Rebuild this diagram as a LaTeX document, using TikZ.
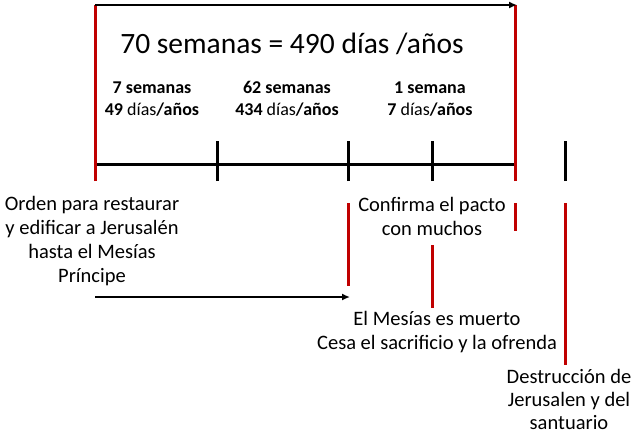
\documentclass[tikz,border=0pt]{standalone}
\usepackage{fontspec}
\setmainfont{Carlito}
\usetikzlibrary{positioning,arrows.meta}
\definecolor{rojo}{RGB}{192,0,0}
\begin{document}
\begin{tikzpicture}[x=1pt,y=-1pt]
    \tikzstyle{tick} = [draw, line width=3pt]
    \tikzstyle{marca} = [draw=rojo, line width=3pt]
    \tikzstyle{flecha} = [draw, line width=1.6pt, -{Latex[length=8pt,width=7pt]}]
    \tikzstyle{texto} = [align=center, font=\fontsize{20.5}{24}\selectfont, inner sep=0pt]
    \tikzstyle{periodo} = [align=center, font=\fontsize{18}{22}\selectfont, inner sep=0pt]

    \useasboundingbox (0,0) rectangle (633,432);

    % linea del tiempo
    \coordinate (t1) at (95,164);
    \coordinate (t2) at (217,164);
    \coordinate (t3) at (348,164);
    \coordinate (t4) at (432,164);
    \coordinate (t5) at (515,164);
    \coordinate (t6) at (565,164);

    \node at (292,44) (titulo) {\fontsize{29.5}{34}\selectfont 70 semanas = 490 días /años};
    \node [periodo] at (152,99) (p1) {\textbf{7 semanas}\\\textbf{49} días\textbf{/años}};
    \node [periodo] at (287,99) (p2) {\textbf{62 semanas}\\\textbf{434} días\textbf{/años}};
    \node [periodo] at (430,99) (p3) {\textbf{1 semana}\\\textbf{7} días\textbf{/años}};

    \node [texto] at (92,241) (orden) {Orden para restaurar\\y edificar a Jerusalén\\hasta el Mesías\\Príncipe};
    \node [texto] at (432,216) (pacto) {Confirma el pacto\\con muchos};
    \node [texto] at (437,332) (muerto) {El Mesías es muerto\\Cesa el sacrificio y la ofrenda};
    \node [texto, font=\fontsize{20.5}{23}\selectfont] at (569,399) (destruccion) {Destrucción de\\Jerusalen y del\\santuario};

    \begin{scope}
    \draw [tick] (t1) -- (t5);
    \foreach \t in {t1,t2,t3,t4,t5,t6}
        \draw [tick] ([yshift=-17pt]\t) -- ([yshift=23pt]\t);

    \draw [marca] (95,5) -- ([yshift=-17pt]t1);
    \draw [marca] (515,5) -- ([yshift=-17pt]t5);
    \draw [flecha] (95,5) -- (517,5);

    \draw [marca] (348,203) -- (348,286);
    \draw [marca] (515,203) -- (515,231);
    \draw [marca] (432,245) -- (432,308);
    \draw [marca] (565,203) -- (565,365);
    \draw [flecha] (95,297) -- (350,297);
    \end{scope}
\end{tikzpicture}
\end{document}
